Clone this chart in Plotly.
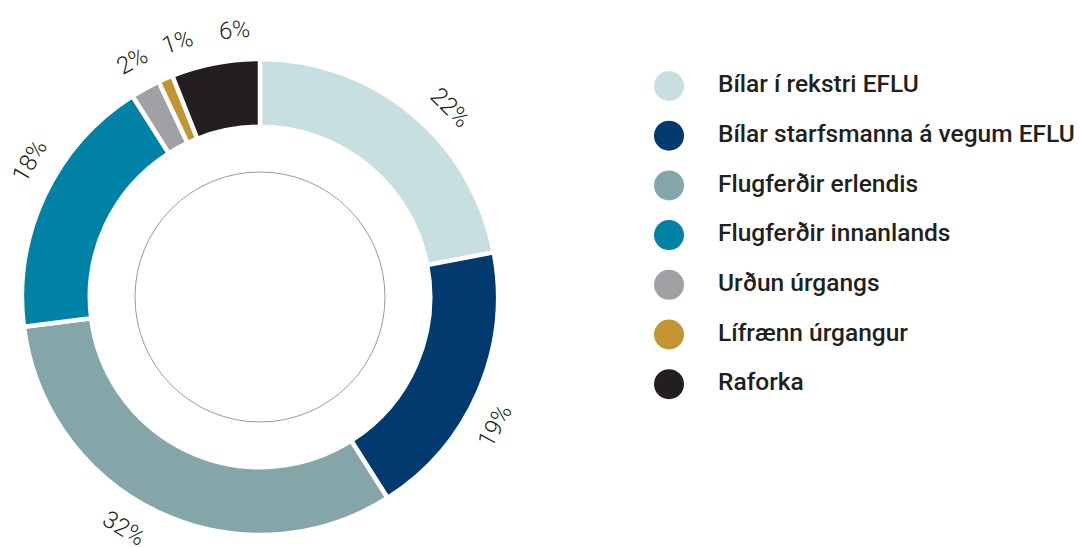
import math
import plotly.graph_objects as go

categories = ["Bílar í rekstri EFLU", "Bílar starfsmanna á vegum EFLU", "Flugferðir erlendis",
              "Flugferðir innanlands", "Urðun úrgangs", "Lífrænn úrgangur", "Raforka"]
values = [22, 19, 32, 18, 2, 1, 6]
colors = ["#C8DFE2", "#003A6E", "#85A6A8", "#0081A6", "#A0A1A5", "#C39532", "#231F20"]

W, H = 1080, 547
CX, CY, R = 260, 297, 238      # donut centre / outer radius (px)
LABEL_R = 268
LABEL_SHIFT = 1.5               # label offset along the ring, in percent of the circle
MIN_GAP = 10.5                  # minimum angular gap between labels (deg)
INNER_LINE_R = 125
TEXT = "#231F20"

fig = go.Figure()
fig.add_trace(go.Pie(
    labels=categories, values=values, sort=False, direction="clockwise", rotation=0,
    hole=0.715, textinfo="none", hoverinfo="label+percent",
    marker=dict(colors=colors, line=dict(color="white", width=4.5)),
    domain=dict(x=[(CX - R) / W, (CX + R) / W], y=[(H - CY - R) / H, (H - CY + R) / H]),
    showlegend=False,
))

# label angles (mid of each slice), spread apart where they would collide
total = sum(values)
cum = 0
angles = []
for v in values:
    angles.append(((cum + v / 2) / total * 100 + LABEL_SHIFT) * 3.6)
    cum += v
for i in range(len(angles) - 2, -1, -1):
    if angles[i + 1] - angles[i] < MIN_GAP:
        angles[i] = angles[i + 1] - MIN_GAP

annotations = []
for v, mid in zip(values, angles):
    th = math.radians(mid)
    px = CX + LABEL_R * math.sin(th)
    py = CY - LABEL_R * math.cos(th)
    if mid <= 90:
        ang = mid
    elif mid <= 270:
        ang = mid - 180
    else:
        ang = mid - 360
    annotations.append(dict(
        x=px / W, y=(H - py) / H, xref="paper", yref="paper", text=f"{round(v / total * 100)}%",
        showarrow=False, textangle=ang, xanchor="center", yanchor="middle",
        font=dict(family="Roboto", size=24, color=TEXT, weight=300),
    ))

# thin inner circle
fig.add_shape(type="circle", xref="paper", yref="paper",
              x0=(CX - INNER_LINE_R) / W, x1=(CX + INNER_LINE_R) / W,
              y0=(H - CY - INNER_LINE_R) / H, y1=(H - CY + INNER_LINE_R) / H,
              line=dict(color="#9A9A9A", width=1))

# custom legend with circular markers
idx = list(range(len(categories)))
fig.add_trace(go.Scatter(
    x=[0] * len(categories), y=idx, mode="markers",
    marker=dict(size=30, color=colors, line=dict(width=0)),
    hoverinfo="skip", showlegend=False, xaxis="x", yaxis="y",
))
fig.add_trace(go.Scatter(
    x=[1] * len(categories), y=idx, mode="text", text=categories,
    textposition="middle right",
    textfont=dict(family="Roboto", size=24.5, color=TEXT, weight=500),
    hoverinfo="skip", showlegend=False, xaxis="x", yaxis="y",
))

x0px, step = 669, 49
row0, row_step = 86, 49.7
left = x0px - step
fig.update_layout(
    width=W, height=H, margin=dict(l=0, r=0, t=0, b=0),
    paper_bgcolor="white", plot_bgcolor="white",
    annotations=annotations,
    xaxis=dict(domain=[left / W, 1], range=[-1, (W - left) / step - 1],
               visible=False, fixedrange=True),
    yaxis=dict(domain=[0, 1], range=[(H - row0) / row_step, -row0 / row_step],
               visible=False, fixedrange=True),
)

fig.write_html("out.html")
